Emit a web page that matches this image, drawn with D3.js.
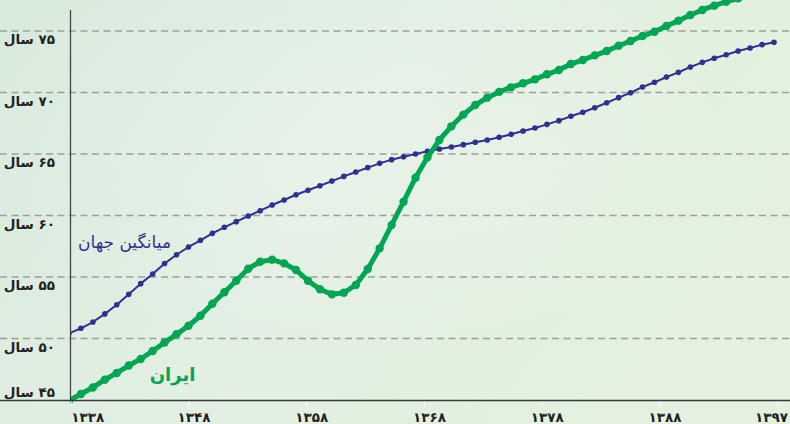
<!DOCTYPE html>
<html><head><meta charset="utf-8">
<script src="https://cdn.jsdelivr.net/npm/d3@7/dist/d3.min.js"></script>
<style>body{margin:0;overflow:hidden;background:#e0efe2}svg{display:block}</style>
</head><body><svg id="c" width="790" height="424"></svg>
<script>
const years = [1338,1339,1340,1341,1342,1343,1344,1345,1346,1347,1348,1349,1350,1351,1352,1353,1354,1355,1356,1357,1358,1359,1360,1361,1362,1363,1364,1365,1366,1367,1368,1369,1370,1371,1372,1373,1374,1375,1376,1377,1378,1379,1380,1381,1382,1383,1384,1385,1386,1387,1388,1389,1390,1391,1392,1393,1394,1395,1396,1397];
const world = [50.41,50.83,51.34,52.0,52.75,53.59,54.46,55.24,56.1,56.81,57.44,57.98,58.55,59.04,59.50,59.96,60.39,60.85,61.26,61.69,62.05,62.42,62.80,63.18,63.54,63.89,64.24,64.54,64.78,65.0,65.22,65.41,65.57,65.76,65.95,66.14,66.36,66.60,66.87,67.11,67.41,67.71,68.07,68.39,68.76,69.17,69.58,69.98,70.45,70.83,71.26,71.64,72.07,72.45,72.78,73.07,73.37,73.62,73.89,74.08];
const iran = [44.95,45.49,46.02,46.65,47.2,47.8,48.33,48.98,49.67,50.34,51.04,51.85,52.83,53.76,54.7,55.67,56.24,56.41,56.11,55.57,54.7,54.0,53.59,53.72,54.35,55.65,57.33,59.23,61.12,63.07,64.73,66.14,67.25,68.2,68.98,69.58,70.05,70.42,70.75,71.07,71.48,71.83,72.32,72.64,73.02,73.37,73.8,74.19,74.59,74.94,75.41,75.84,76.3,76.71,77.06,77.38,77.65,77.9,78.12,78.3];
const xTickLabels = ['۱۳۳۸','۱۳۴۸','۱۳۵۸','۱۳۶۸','۱۳۷۸','۱۳۸۸','۱۳۹۷'];
const yTicks = [45,50,55,60,65,70,75];
const yTickLabels = ['۴۵ سال','۵۰ سال','۵۵ سال','۶۰ سال','۶۵ سال','۷۰ سال','۷۵ سال'];
const seriesNames = ['میانگین جهان','ایران'];
const seriesColors = ['#2e3192','#00a651'];

const W = 790, H = 424;
const svg = d3.select('#c');
const defs = svg.append('defs');
const lg = defs.append('linearGradient').attr('id','bg').attr('x1','0').attr('y1','0').attr('x2','1').attr('y2','0.4');
lg.append('stop').attr('offset','0').attr('stop-color','#d8eadc');
lg.append('stop').attr('offset','0.5').attr('stop-color','#e2efe3');
lg.append('stop').attr('offset','1').attr('stop-color','#e3f1de');
const rg = defs.append('radialGradient').attr('id','hl').attr('cx','0.45').attr('cy','0.35').attr('r','0.5');
rg.append('stop').attr('offset','0').attr('stop-color','#ffffff').attr('stop-opacity',0.22);
rg.append('stop').attr('offset','1').attr('stop-color','#ffffff').attr('stop-opacity',0);
defs.append('clipPath').attr('id','plotclip').append('rect').attr('x',70.5).attr('y',-20).attr('width',W).attr('height',H);

svg.append('rect').attr('width',W).attr('height',H).attr('fill','url(#bg)');
svg.append('rect').attr('width',W).attr('height',H).attr('fill','url(#hl)');

const x = d3.scaleLinear().domain([years[0], years[years.length-1]]).range([69, 774]);
const y = d3.scaleLinear().domain([45, 75]).range([400, 31]);
const xt = d3.scalePoint().domain(xTickLabels).range([71.3, 777.7]);

const font = '"DejaVu Sans", sans-serif';

// gridlines
svg.append('g').selectAll('line').data(yTicks.filter(v => v > d3.min(yTicks))).join('line')
  .attr('x1',0).attr('x2',W).attr('y1',d=>y(d)).attr('y2',d=>y(d))
  .attr('stroke','#9c9e9c').attr('stroke-width',1.5).attr('stroke-dasharray','7,4.5');

// y labels
svg.append('g').selectAll('text').data(yTicks).join('text')
  .attr('x',55).attr('y',d => d === d3.min(yTicks) ? y(d)-8 : y(d)+8)
  .attr('dominant-baseline','central').attr('text-anchor','end')
  .attr('font-family',font).attr('font-weight','bold').attr('font-size',13.5)
  .attr('fill','#222')
  .text((d,i) => '\u200F' + yTickLabels[i]);

// series
const plot = svg.append('g').attr('clip-path','url(#plotclip)');
const line = d3.line().x((d,i)=>x(years[i])).y(d=>y(d));
function drawSeries(vals, color, lw, r){
  const g = plot.append('g');
  g.append('path').datum(vals).attr('d',line).attr('fill','none')
    .attr('stroke',color).attr('stroke-width',lw).attr('stroke-linejoin','round').attr('stroke-linecap','round');
  g.selectAll('circle').data(vals).join('circle')
    .attr('cx',(d,i)=>x(years[i])).attr('cy',d=>y(d)).attr('r',r).attr('fill',color);
}
drawSeries(world, seriesColors[0], 2, 2.8);
drawSeries(iran, seriesColors[1], 5, 4.2);

// axes
svg.append('line').attr('x1',0).attr('x2',W).attr('y1',400.5).attr('y2',400.5).attr('stroke','#3a3a3a').attr('stroke-width',1.5);
svg.append('line').attr('x1',70.5).attr('x2',70.5).attr('y1',10).attr('y2',400.5).attr('stroke','#444').attr('stroke-width',1.3);

// x ticks (white marks)
svg.append('g').selectAll('line').data(xTickLabels).join('line')
  .attr('x1',d=>xt(d)).attr('x2',d=>xt(d)).attr('y1',401.5).attr('y2',406)
  .attr('stroke','#ffffff').attr('stroke-width',1);

// x labels
const nT = xTickLabels.length;
svg.append('g').selectAll('text').data(xTickLabels).join('text')
  .attr('x',(d,i)=> i===0 ? xt(d) : (i===nT-1 ? 788 : xt(d)+5))
  .attr('text-anchor',(d,i)=> i===0 ? 'start' : (i===nT-1 ? 'end' : 'middle'))
  .attr('y',416.5).attr('dominant-baseline','central')
  .attr('font-family',font).attr('font-weight','bold').attr('font-size',13.5)
  .attr('fill','#222').text(d=>d);

// series labels
svg.append('text').attr('x',124.5).attr('y',242).attr('text-anchor','middle').attr('dominant-baseline','central')
  .attr('font-family',font).attr('font-size',17).attr('fill',seriesColors[0]).text(seriesNames[0]);
svg.append('text').attr('x',172.5).attr('y',374).attr('text-anchor','middle').attr('dominant-baseline','central')
  .attr('font-family',font).attr('font-size',18).attr('font-weight','bold').attr('fill',seriesColors[1]).text(seriesNames[1]);
</script></body></html>
